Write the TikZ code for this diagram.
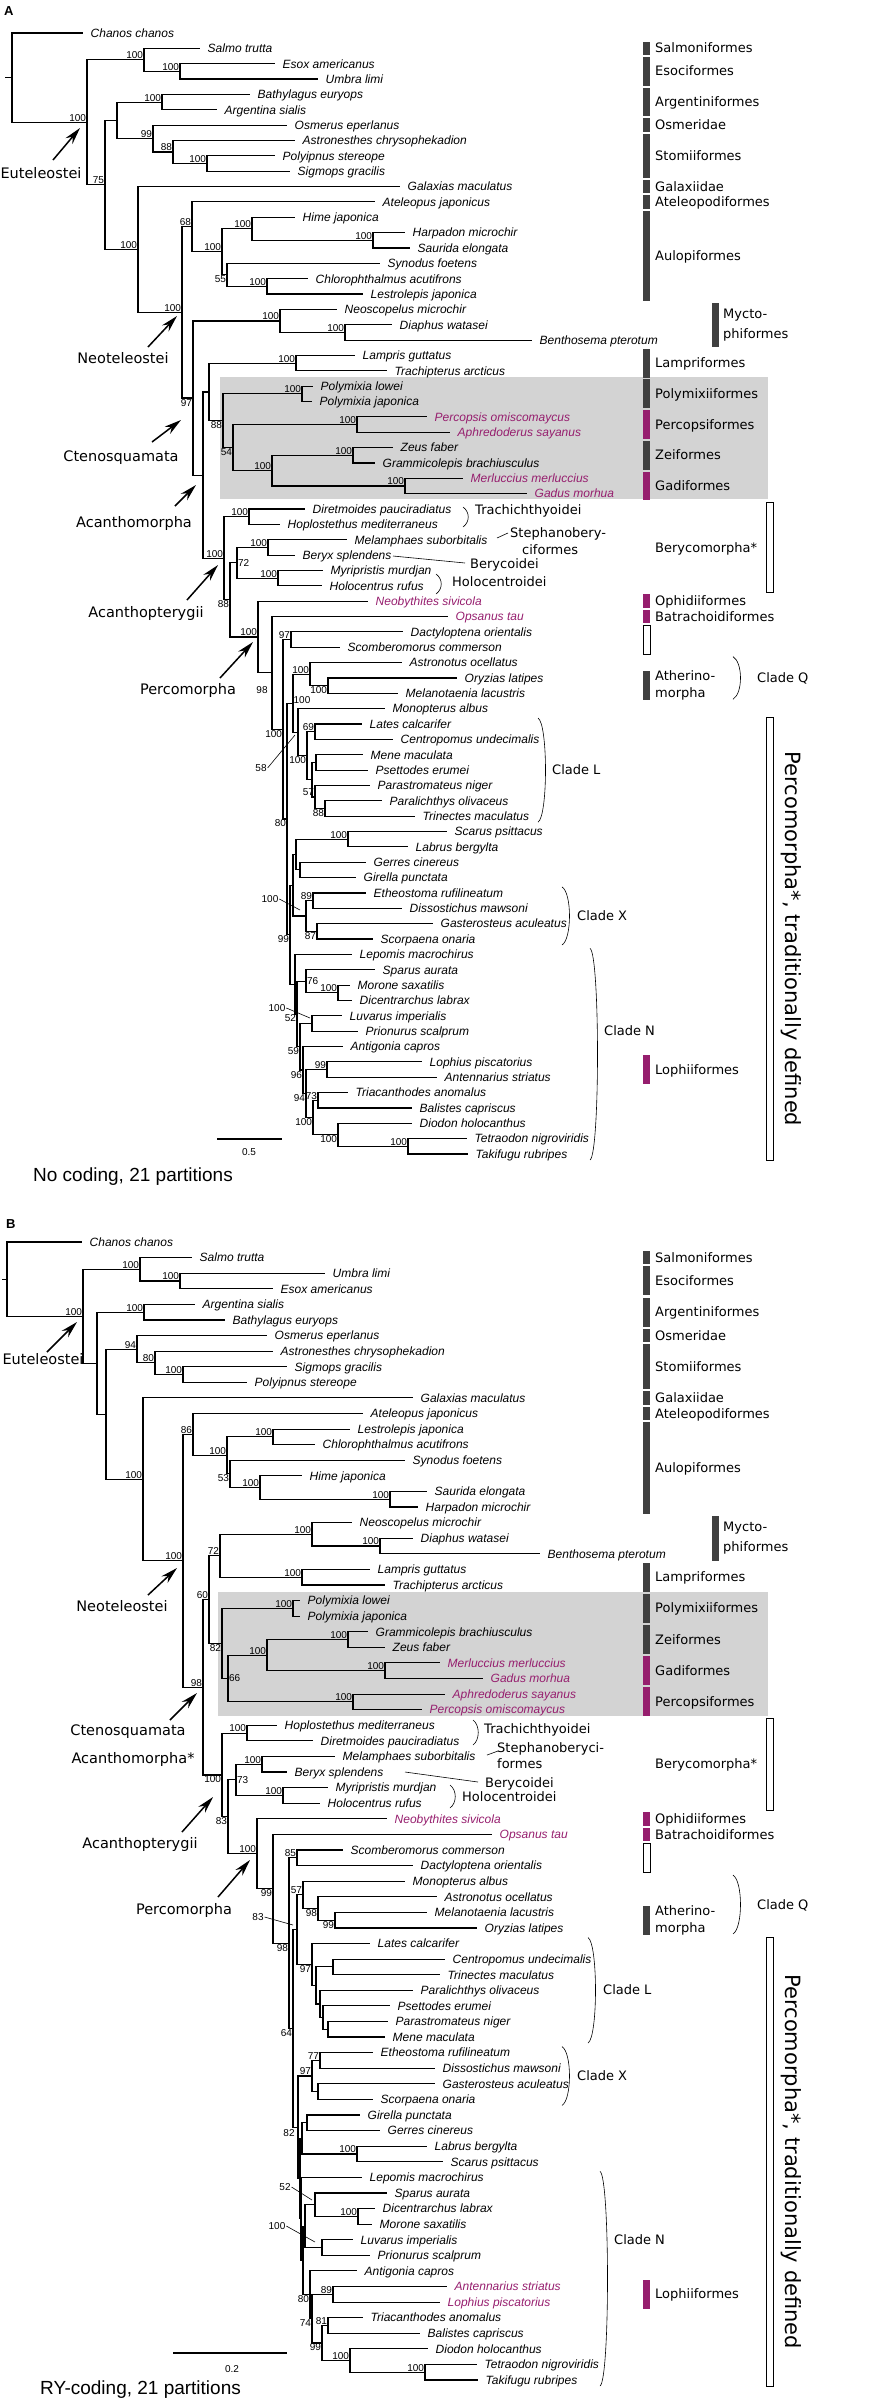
\documentclass[tikz,border=0pt]{standalone}
\usepackage{fontspec}
\setmainfont{Liberation Sans}
\setsansfont{Liberation Sans}
\newfontfamily\dvf{DejaVu Sans}
\usetikzlibrary{calc,arrows.meta}
\definecolor{purp}{RGB}{150,30,110}
\definecolor{dkbar}{RGB}{64,64,64}
\definecolor{boxg}{RGB}{211,211,211}
\newcommand\Yb{33}
\newcommand\Ys{15.356}
\newcommand\yv[1]{(\Yb+(#1-1)*\Ys)}
\newcommand\tleaf[5][]{\coordinate (#2) at (#3,{\yv{#4}});\node[leaf,#1] (#2t) at (#2) {#5};}
\newcommand\tnode[4]{\path let \p1=(#3),\p2=(#4) in ({#2pt},{0.5*(\y1)+0.5*(\y2)}) coordinate (#1);\draw[br] (#1) |- (#3);\draw[br] (#1) |- (#4);}
\newcommand\tsup[3][south east]{\node[bsl,anchor=#1] (#2b) at (#2) {#3};}
\newcommand\tsupa[4]{\node[bsl] (#1) at (#2,#3) {#4};}
\newcommand\tlead[6]{\node[bsl] (#1) at (#2,#3) {#4};\coordinate (#1e) at (#5,#6);\draw[lead] (#1.east) -- (#1e);}
\newcounter{oc}
\newcommand\tord[4][dk]{\stepcounter{oc}\path[#1] (643,{\yv{#2}-6.7}) rectangle (650,{\yv{#3}+6.7});\node[ordl] (ord\theoc) at (655,{(\yv{#2}+\yv{#3})/2}) {#4};}
\newcommand\tobar[3]{\path[wb] (#1,{\yv{#2}-6.7}) rectangle ({#1+7},{\yv{#3}+6.7});}
\newcommand\cbr[3]{\draw[lead] (#1,{\yv{#2}-6}) .. controls ({#1+10},{\yv{#2}}) and ({#1+10},{\yv{#3}}) .. (#1,{\yv{#3}+6});}
\newcommand\sbr[3]{\draw[lead] (#1,#2) .. controls ({#1+7},{#2+5}) and ({#1+7},{#3-5}) .. (#1,#3);}
\begin{document}
\begin{tikzpicture}[x=1pt,y=-1pt,
  br/.style={line width=1.15pt},
  leaf/.style={anchor=base west,inner sep=0pt,xshift=7.5pt,yshift=-4.3pt,font=\fontsize{12}{14}\selectfont\itshape},
  bsl/.style={inner sep=0.8pt,font=\fontsize{10}{12}\selectfont},
  ordl/.style={anchor=base west,inner sep=0pt,yshift=-4.6pt,font=\dvf\fontsize{13}{15}\selectfont},
  ordm/.style={anchor=west,inner sep=0pt,align=left,font=\dvf\fontsize{13}{17}\selectfont},
  arrl/.style={inner sep=0pt,font=\dvf\fontsize{14.5}{17}\selectfont},
  arr/.style={line width=1.5pt,-{Stealth[length=17pt,width=9pt]}},
  lead/.style={line width=0.6pt},
  dk/.style={fill=dkbar},
  mg/.style={fill=purp},
  wb/.style={draw=black,line width=0.6pt,fill=white},
  pur/.style={text=purp}]
\useasboundingbox (0,0) rectangle (887,2404);
\fill[boxg] (220,377) rectangle (768,499);
\fill[boxg] (218,1592) rectangle (768,1716);
% ================= PANEL A =================
\node[anchor=west,inner sep=0pt,font=\bfseries\fontsize{13}{15}\selectfont] (pA) at (4,11) {A};
\tleaf{a1}{83}{1}{Chanos chanos}
\tleaf{a2}{200}{2}{Salmo trutta}
\tleaf{a3}{275}{3}{Esox americanus}
\tleaf{a4}{318}{4}{Umbra limi}
\tleaf{a5}{250}{5}{Bathylagus euryops}
\tleaf{a6}{217}{6}{Argentina sialis}
\tleaf{a7}{287}{7}{Osmerus eperlanus}
\tleaf{a8}{295}{8}{Astronesthes chrysophekadion}
\tleaf{a9}{275}{9}{Polyipnus stereope}
\tleaf{a10}{290}{10}{Sigmops gracilis}
\tleaf{a11}{400}{11}{Galaxias maculatus}
\tleaf{a12}{375}{12}{Ateleopus japonicus}
\tleaf{a13}{295}{13}{Hime japonica}
\tleaf{a14}{405}{14}{Harpadon microchir}
\tleaf{a15}{410}{15}{Saurida elongata}
\tleaf{a16}{380}{16}{Synodus foetens}
\tleaf{a17}{308}{17}{Chlorophthalmus acutifrons}
\tleaf{a18}{363}{18}{Lestrolepis japonica}
\tleaf{a19}{337}{19}{Neoscopelus microchir}
\tleaf{a20}{392}{20}{Diaphus watasei}
\tleaf{a21}{532}{21}{Benthosema pterotum}
\tleaf{a22}{355}{22}{Lampris guttatus}
\tleaf{a23}{387}{23}{Trachipterus arcticus}
\tleaf{a24}{313}{24}{Polymixia lowei}
\tleaf{a25}{312}{25}{Polymixia japonica}
\tleaf[pur]{a26}{427}{26}{Percopsis omiscomaycus}
\tleaf[pur]{a27}{450}{27}{Aphredoderus sayanus}
\tleaf{a28}{393}{28}{Zeus faber}
\tleaf{a29}{375}{29}{Grammicolepis brachiusculus}
\tleaf[pur]{a30}{463}{30}{Merluccius merluccius}
\tleaf[pur]{a31}{527}{31}{Gadus morhua}
\tleaf{a32}{305}{32}{Diretmoides pauciradiatus}
\tleaf{a33}{280}{33}{Hoplostethus mediterraneus}
\tleaf{a34}{347}{34}{Melamphaes suborbitalis}
\tleaf{a35}{295}{35}{Beryx splendens}
\tleaf{a36}{323}{36}{Myripristis murdjan}
\tleaf{a37}{322}{37}{Holocentrus rufus}
\tleaf[pur]{a38}{368}{38}{Neobythites sivicola}
\tleaf[pur]{a39}{448}{39}{Opsanus tau}
\tleaf{a40}{403}{40}{Dactyloptena orientalis}
\tleaf{a41}{340}{41}{Scomberomorus commerson}
\tleaf{a42}{402}{42}{Astronotus ocellatus}
\tleaf{a43}{457}{43}{Oryzias latipes}
\tleaf{a44}{398}{44}{Melanotaenia lacustris}
\tleaf{a45}{385}{45}{Monopterus albus}
\tleaf{a46}{362}{46}{Lates calcarifer}
\tleaf{a47}{393}{47}{Centropomus undecimalis}
\tleaf{a48}{363}{48}{Mene maculata}
\tleaf{a49}{368}{49}{Psettodes erumei}
\tleaf{a50}{370}{50}{Parastromateus niger}
\tleaf{a51}{382}{51}{Paralichthys olivaceus}
\tleaf{a52}{415}{52}{Trinectes maculatus}
\tleaf{a53}{447}{53}{Scarus psittacus}
\tleaf{a54}{408}{54}{Labrus bergylta}
\tleaf{a55}{366}{55}{Gerres cinereus}
\tleaf{a56}{356}{56}{Girella punctata}
\tleaf{a57}{366}{57}{Etheostoma rufilineatum}
\tleaf{a58}{402}{58}{Dissostichus mawsoni}
\tleaf{a59}{433}{59}{Gasterosteus aculeatus}
\tleaf{a60}{373}{60}{Scorpaena onaria}
\tleaf{a61}{352}{61}{Lepomis macrochirus}
\tleaf{a62}{375}{62}{Sparus aurata}
\tleaf{a63}{350}{63}{Morone saxatilis}
\tleaf{a64}{352}{64}{Dicentrarchus labrax}
\tleaf{a65}{342}{65}{Luvarus imperialis}
\tleaf{a66}{358}{66}{Prionurus scalprum}
\tleaf{a67}{343}{67}{Antigonia capros}
\tleaf{a68}{422}{68}{Lophius piscatorius}
\tleaf{a69}{437}{69}{Antennarius striatus}
\tleaf{a70}{348}{70}{Triacanthodes anomalus}
\tleaf{a71}{412}{71}{Balistes capriscus}
\tleaf{a72}{412}{72}{Diodon holocanthus}
\tleaf{a73}{467}{73}{Tetraodon nigroviridis}
\tleaf{a74}{468}{74}{Takifugu rubripes}
% internal nodes A
\tnode{a-salumb}{180}{a3}{a4}\tsup{a-salumb}{100}
\tnode{a-salmo}{144}{a2}{a-salumb}\tsup{a-salmo}{100}
\tnode{a-batarg}{162}{a5}{a6}\tsup{a-batarg}{100}
\tnode{a-polsig}{207}{a9}{a10}\tsup{a-polsig}{100}
\tnode{a-ast}{173}{a8}{a-polsig}\tsup{a-ast}{88}
\tnode{a-osm}{153}{a7}{a-ast}\tsup{a-osm}{99}
\tnode{a-arg}{117}{a-batarg}{a-osm}
\tnode{a-harsau}{373}{a14}{a15}\tsup{a-harsau}{100}
\tnode{a-hime}{252}{a13}{a-harsau}\tsup{a-hime}{100}
\tnode{a-chlles}{267}{a17}{a18}\tsup{a-chlles}{100}
\tnode{a-syn}{227}{a16}{a-chlles}\tsup[north east]{a-syn}{55}
\tnode{a-aulo}{222}{a-hime}{a-syn}\tsup{a-aulo}{100}
\tnode{a-68}{192}{a12}{a-aulo}\tsup{a-68}{68}
\tnode{a-diaben}{345}{a20}{a21}\tsup{a-diaben}{100}
\tnode{a-myct}{280}{a19}{a-diaben}\tsup{a-myct}{100}
\tnode{a-lamp}{296}{a22}{a23}\tsup{a-lamp}{100}
\tnode{a-poly}{302}{a24}{a25}\tsup{a-poly}{100}
\tnode{a-perc}{357}{a26}{a27}\tsup{a-perc}{100}
\tnode{a-zeus}{353}{a28}{a29}\tsup{a-zeus}{100}
\tnode{a-gadi}{405}{a30}{a31}\tsup{a-gadi}{100}
\tnode{a-zg}{272}{a-zeus}{a-gadi}\tsup{a-zg}{100}
\tnode{a-54}{233}{a-perc}{a-zg}\tsup[north east]{a-54}{54}
\tnode{a-88}{223}{a-poly}{a-54}\tsup[north east]{a-88}{88}
\tnode{a-para}{209}{a-lamp}{a-88}
\tnode{a-trach}{249}{a32}{a33}\tsup{a-trach}{100}
\tnode{a-melber}{268}{a34}{a35}\tsup{a-melber}{100}
\tnode{a-holo}{278}{a36}{a37}\tsup{a-holo}{100}
\tnode{a-72}{237}{a-melber}{a-holo}\tsup[west]{a-72}{72}
\tnode{a-dactsc}{291}{a40}{a41}\tsup{a-dactsc}{97}
\tnode{a-orymel}{328}{a43}{a44}\tsup[north east]{a-orymel}{100}
\tnode{a-Q}{310}{a42}{a-orymel}\tsup{a-Q}{100}
\tnode{a-latcen}{315}{a46}{a47}\tsup{a-latcen}{69}
\tnode{a-menpse}{316}{a48}{a49}
\tnode{a-paratrin}{325}{a51}{a52}\tsup[north east]{a-paratrin}{88}
\tnode{a-57}{315}{a50}{a-paratrin}\tsup{a-57}{57}
\tnode{a-x312}{312}{a-menpse}{a-57}
\tnode{a-L}{307}{a-latcen}{a-x312}\tsup[north east]{a-L}{100}
\tnode{a-58}{298}{a45}{a-L}
\tlead{a-58b}{261}{768}{58}{295}{735}
\tnode{a-A1}{293}{a-Q}{a-58}\tsupa{a-A1b}{302}{700}{100}
\tnode{a-scalab}{348}{a53}{a54}\tsup{a-scalab}{100}
\tnode{a-gergir}{300}{a55}{a56}
\tnode{a-sg}{296}{a-scalab}{a-gergir}
\tnode{a-ethdis}{313}{a57}{a58}\tsup{a-ethdis}{89}
\tnode{a-gassco}{317}{a59}{a60}\tsup[north east]{a-gassco}{87}
\tnode{a-X}{306}{a-ethdis}{a-gassco}
\tlead{a-Xb}{270}{899}{100}{300}{910}
\tnode{a-sgx}{293}{a-sg}{a-X}
\tnode{a-mordic}{338}{a63}{a64}\tsup{a-mordic}{100}
\tnode{a-76}{306}{a62}{a-mordic}\tsup[west]{a-76}{76}
\tnode{a-luv}{312}{a65}{a66}
\tlead{a-luvb}{277}{1008}{100}{310}{1018}
\tnode{a-lophii}{327}{a68}{a69}\tsup{a-lophii}{99}
\tnode{a-triac}{318}{a70}{a71}\tsup{a-triac}{73}
\tnode{a-tettak}{408}{a73}{a74}\tsup{a-tettak}{100}
\tnode{a-tetra}{338}{a72}{a-tettak}\tsup[north east]{a-tetra}{100}
\tnode{a-tx}{313}{a-triac}{a-tetra}\tsup[north east]{a-tx}{100}
\tnode{a-94}{306}{a-lophii}{a-tx}\tsup[north east]{a-94}{94}
\tnode{a-96}{303}{a67}{a-94}\tsup[north east]{a-96}{96}
\tnode{a-59}{300}{a-luv}{a-96}\tsup[north east]{a-59}{59}
\tnode{a-52}{297}{a-76}{a-59}\tsup[north east]{a-52}{52}
\tnode{a-N}{295}{a61}{a-52}
\tnode{a-99}{290}{a-sgx}{a-N}\tsup[north east]{a-99}{99}
\tnode{a-80}{287}{a-A1}{a-99}\tsup[north east]{a-80}{80}
\tnode{a-R}{283}{a-dactsc}{a-80}\tsup[north east]{a-R}{100}
\tnode{a-98}{272}{a39}{a-R}\tsupa{a-98b}{262}{690}{98}
\tnode{a-pcm}{258}{a38}{a-98}\tsup{a-pcm}{100}
\tnode{a-88b}{230}{a-72}{a-pcm}\tsup[north east]{a-88b}{88}
\tnode{a-acpt}{224}{a-trach}{a-88b}\tsup{a-acpt}{100}
\tnode{a-acm}{203}{a-para}{a-acpt}
\tnode{a-cten}{193}{a-myct}{a-acm}\tsup[north east]{a-cten}{97}
\tnode{a-neo}{182}{a-68}{a-cten}\tsup{a-neo}{100}
\tnode{a-galneo}{138}{a11}{a-neo}\tsup{a-galneo}{100}
\tnode{a-75}{105}{a-arg}{a-galneo}\tsup{a-75}{75}
\tnode{a-eut}{87}{a-salmo}{a-75}\tsup{a-eut}{100}
\tnode{a-root}{12}{a1}{a-eut}
\draw[br] (a-root) -- ++(-7,0);
% arrows A
\node[arrl] (la1) at (41,173) {Euteleostei};
\coordinate (aa1s) at (53,160); \coordinate (aa1e) at (80,128); \draw[arr] (aa1s) -- (aa1e);
\node[arrl] (la2) at (123,358) {Neoteleostei};
\coordinate (aa2s) at (148,347); \coordinate (aa2e) at (177,316); \draw[arr] (aa2s) -- (aa2e);
\node[arrl] (la3) at (121,458) {Ctenosquamata};
\coordinate (aa3s) at (152,442); \coordinate (aa3e) at (181,420); \draw[arr] (aa3s) -- (aa3e);
\node[arrl] (la4) at (134,523) {Acanthomorpha};
\coordinate (aa4s) at (175,506); \coordinate (aa4e) at (196,485); \draw[arr] (aa4s) -- (aa4e);
\node[arrl] (la5) at (146,613) {Acanthopterygii};
\coordinate (aa5s) at (187,600); \coordinate (aa5e) at (218,565); \draw[arr] (aa5s) -- (aa5e);
\node[arrl] (la6) at (188,690) {Percomorpha};
\coordinate (aa6s) at (220,678); \coordinate (aa6e) at (253,642); \draw[arr] (aa6s) -- (aa6e);
% right side A
\tord{2}{2}{Salmoniformes}
\tord{3}{4}{Esociformes}
\tord{5}{6}{Argentiniformes}
\tord{7}{7}{Osmeridae}
\tord{8}{10}{Stomiiformes}
\tord{11}{11}{Galaxiidae}
\tord{12}{12}{Ateleopodiformes}
\tord{13}{18}{Aulopiformes}
\fill[dkbar] (712,{\yv{19}-6.7}) rectangle (719,{\yv{21}+6.7});
\node[ordm,font=\dvf\fontsize{13}{20}\selectfont] (myA) at (723,{\yv{20}}) {Mycto-\\phiformes};
\tord{22}{23}{Lampriformes}
\tord{24}{25}{Polymixiiformes}
\tord[mg]{26}{27}{Percopsiformes}
\tord{28}{29}{Zeiformes}
\tord[mg]{30}{31}{Gadiformes}
\tobar{766}{32}{37}
\node[ordl] (berA) at (655,{(\yv{32}+\yv{37})/2}) {Berycomorpha*};
\sbr{463}{507}{527}
\node[ordl] (trA) at (475,{\yv{32}+1}) {Trachichthyoidei};
\node[ordm,font=\dvf\fontsize{13}{17}\selectfont] (stA) at (510,541) {Stephanobery-\\\hspace*{12pt}ciformes};
\coordinate (stA1) at (497,538); \coordinate (stA2) at (508,533); \draw[lead] (stA1) -- (stA2);
\node[ordl] (bcA) at (470,564) {Berycoidei};
\coordinate (bcA1) at (393,556); \coordinate (bcA2) at (465,563); \draw[lead] (bcA1) -- (bcA2);
\sbr{436}{574}{594}
\node[ordl] (hoA) at (452,582) {Holocentroidei};
\tord[mg]{38}{38}{Ophidiiformes}
\tord[mg]{39}{39}{Batrachoidiformes}
\path[wb] (643,{\yv{40}-6.7}) rectangle (650,{\yv{41}+6.7});
\fill[dkbar] (643,{\yv{43}-6.7}) rectangle (650,{\yv{44}+6.7});
\node[ordm] (atA) at (655,{(\yv{43}+\yv{44})/2}) {Atherino-\\morpha};
\cbr{733}{42}{44}
\node[ordl] (cqA) at (757,{\yv{43}}) {Clade Q};
\cbr{538}{46}{52}
\node[ordl] (clA) at (552,{\yv{49}}) {Clade L};
\cbr{562}{57}{60}
\node[ordl] (cxA) at (577,{(\yv{57}+\yv{60})/2}) {Clade X};
\cbr{590}{61}{74}
\node[ordl] (cnA) at (604,{\yv{66}}) {Clade N};
\tord[mg]{68}{69}{Lophiiformes}
\tobar{766}{46}{74}
\node[rotate=-90,inner sep=0pt,font=\dvf\fontsize{21}{24}\selectfont] (pcA) at (791,{(\yv{46}+\yv{74})/2}) {Percomorpha*, traditionally defined};
\coordinate (sA1) at (217,1139); \coordinate (sA2) at (282,1139); \draw[br] (sA1) -- (sA2);
\node[bsl] (sAl) at (249,1152) {0.5};
\node[anchor=west,inner sep=0pt,font=\fontsize{19}{22}\selectfont] (tA) at (33,1177) {No coding, 21 partitions};
% ================= PANEL B =================
\renewcommand\Yb{1242}\renewcommand\Ys{15.589}
\node[anchor=west,inner sep=0pt,font=\bfseries\fontsize{13}{15}\selectfont] (pB) at (6,1224) {B};
\tleaf{b1}{82}{1}{Chanos chanos}
\tleaf{b2}{192}{2}{Salmo trutta}
\tleaf{b3}{325}{3}{Umbra limi}
\tleaf{b4}{273}{4}{Esox americanus}
\tleaf{b5}{195}{5}{Argentina sialis}
\tleaf{b6}{225}{6}{Bathylagus euryops}
\tleaf{b7}{267}{7}{Osmerus eperlanus}
\tleaf{b8}{273}{8}{Astronesthes chrysophekadion}
\tleaf{b9}{287}{9}{Sigmops gracilis}
\tleaf{b10}{247}{10}{Polyipnus stereope}
\tleaf{b11}{413}{11}{Galaxias maculatus}
\tleaf{b12}{363}{12}{Ateleopus japonicus}
\tleaf{b13}{350}{13}{Lestrolepis japonica}
\tleaf{b14}{315}{14}{Chlorophthalmus acutifrons}
\tleaf{b15}{405}{15}{Synodus foetens}
\tleaf{b16}{302}{16}{Hime japonica}
\tleaf{b17}{427}{17}{Saurida elongata}
\tleaf{b18}{418}{18}{Harpadon microchir}
\tleaf{b19}{352}{19}{Neoscopelus microchir}
\tleaf{b20}{413}{20}{Diaphus watasei}
\tleaf{b21}{540}{21}{Benthosema pterotum}
\tleaf{b22}{370}{22}{Lampris guttatus}
\tleaf{b23}{385}{23}{Trachipterus arcticus}
\tleaf{b24}{300}{24}{Polymixia lowei}
\tleaf{b25}{300}{25}{Polymixia japonica}
\tleaf{b26}{368}{26}{Grammicolepis brachiusculus}
\tleaf{b27}{385}{27}{Zeus faber}
\tleaf[pur]{b28}{440}{28}{Merluccius merluccius}
\tleaf[pur]{b29}{483}{29}{Gadus morhua}
\tleaf[pur]{b30}{445}{30}{Aphredoderus sayanus}
\tleaf[pur]{b31}{422}{31}{Percopsis omiscomaycus}
\tleaf{b32}{277}{32}{Hoplostethus mediterraneus}
\tleaf{b33}{313}{33}{Diretmoides pauciradiatus}
\tleaf{b34}{335}{34}{Melamphaes suborbitalis}
\tleaf{b35}{287}{35}{Beryx splendens}
\tleaf{b36}{328}{36}{Myripristis murdjan}
\tleaf{b37}{320}{37}{Holocentrus rufus}
\tleaf[pur]{b38}{387}{38}{Neobythites sivicola}
\tleaf[pur]{b39}{492}{39}{Opsanus tau}
\tleaf{b40}{343}{40}{Scomberomorus commerson}
\tleaf{b41}{413}{41}{Dactyloptena orientalis}
\tleaf{b42}{405}{42}{Monopterus albus}
\tleaf{b43}{437}{43}{Astronotus ocellatus}
\tleaf{b44}{427}{44}{Melanotaenia lacustris}
\tleaf{b45}{477}{45}{Oryzias latipes}
\tleaf{b46}{370}{46}{Lates calcarifer}
\tleaf{b47}{445}{47}{Centropomus undecimalis}
\tleaf{b48}{440}{48}{Trinectes maculatus}
\tleaf{b49}{413}{49}{Paralichthys olivaceus}
\tleaf{b50}{390}{50}{Psettodes erumei}
\tleaf{b51}{388}{51}{Parastromateus niger}
\tleaf{b52}{385}{52}{Mene maculata}
\tleaf{b53}{373}{53}{Etheostoma rufilineatum}
\tleaf{b54}{435}{54}{Dissostichus mawsoni}
\tleaf{b55}{435}{55}{Gasterosteus aculeatus}
\tleaf{b56}{373}{56}{Scorpaena onaria}
\tleaf{b57}{360}{57}{Girella punctata}
\tleaf{b58}{380}{58}{Gerres cinereus}
\tleaf{b59}{427}{59}{Labrus bergylta}
\tleaf{b60}{443}{60}{Scarus psittacus}
\tleaf{b61}{362}{61}{Lepomis macrochirus}
\tleaf{b62}{387}{62}{Sparus aurata}
\tleaf{b63}{375}{63}{Dicentrarchus labrax}
\tleaf{b64}{372}{64}{Morone saxatilis}
\tleaf{b65}{353}{65}{Luvarus imperialis}
\tleaf{b66}{370}{66}{Prionurus scalprum}
\tleaf{b67}{357}{67}{Antigonia capros}
\tleaf[pur]{b68}{447}{68}{Antennarius striatus}
\tleaf[pur]{b69}{440}{69}{Lophius piscatorius}
\tleaf{b70}{363}{70}{Triacanthodes anomalus}
\tleaf{b71}{420}{71}{Balistes capriscus}
\tleaf{b72}{428}{72}{Diodon holocanthus}
\tleaf{b73}{477}{73}{Tetraodon nigroviridis}
\tleaf{b74}{478}{74}{Takifugu rubripes}
% internal nodes B
\tnode{b-umbesox}{180}{b3}{b4}\tsup{b-umbesox}{100}
\tnode{b-salmo}{140}{b2}{b-umbesox}\tsup{b-salmo}{100}
\tnode{b-argbat}{144}{b5}{b6}\tsup{b-argbat}{100}
\tnode{b-sigpol}{183}{b9}{b10}\tsup{b-sigpol}{100}
\tnode{b-80}{155}{b8}{b-sigpol}\tsup{b-80}{80}
\tnode{b-94}{137}{b7}{b-80}\tsup{b-94}{94}
\tnode{b-sauhar}{390}{b17}{b18}\tsup{b-sauhar}{100}
\tnode{b-hime}{260}{b16}{b-sauhar}\tsup{b-hime}{100}
\tnode{b-53}{230}{b15}{b-hime}\tsup[north east]{b-53}{53}
\tnode{b-lesch}{273}{b13}{b14}\tsup{b-lesch}{100}
\tnode{b-aulo}{227}{b-lesch}{b-53}\tsup{b-aulo}{100}
\tnode{b-86}{193}{b12}{b-aulo}\tsup{b-86}{86}
\tnode{b-diaben}{380}{b20}{b21}\tsup{b-diaben}{100}
\tnode{b-myct}{312}{b19}{b-diaben}\tsup{b-myct}{100}
\tnode{b-lamp}{302}{b22}{b23}\tsup{b-lamp}{100}
\tnode{b-72}{220}{b-myct}{b-lamp}\tsup{b-72}{72}
\tnode{b-poly}{293}{b24}{b25}\tsup{b-poly}{100}
\tnode{b-zeus}{348}{b26}{b27}\tsup{b-zeus}{100}
\tnode{b-gadi}{385}{b28}{b29}\tsup{b-gadi}{100}
\tnode{b-zg}{267}{b-zeus}{b-gadi}\tsup{b-zg}{100}
\tnode{b-perc}{353}{b30}{b31}\tsup{b-perc}{100}
\tnode{b-66}{228}{b-zg}{b-perc}\tsup[west]{b-66}{66}
\tnode{b-82}{222}{b-poly}{b-66}\tsup[north east]{b-82}{82}
\tnode{b-60}{209}{b-72}{b-82}\tsup{b-60}{60}
\tnode{b-trach}{247}{b32}{b33}\tsup{b-trach}{100}
\tnode{b-melber}{262}{b34}{b35}\tsup{b-melber}{100}
\tnode{b-holo}{283}{b36}{b37}\tsup{b-holo}{100}
\tnode{b-73}{236}{b-melber}{b-holo}\tsup[west]{b-73}{73}
\tnode{b-85}{297}{b40}{b41}\tsup{b-85}{85}
\tnode{b-melory}{335}{b44}{b45}\tsup[north east]{b-melory}{99}
\tnode{b-98b}{318}{b43}{b-melory}\tsup[north east]{b-98b}{98}
\tnode{b-57}{303}{b42}{b-98b}\tsup{b-57}{57}
\tnode{b-centrin}{333}{b47}{b48}
\tnode{b-mene}{328}{b51}{b52}
\tnode{b-pse}{323}{b50}{b-mene}
\tnode{b-par}{320}{b49}{b-pse}
\tnode{b-ctp}{316}{b-centrin}{b-par}
\tnode{b-L}{312}{b46}{b-ctp}\tsup[north east]{b-L}{97}
\tnode{b-83}{297}{b-57}{b-L}
\tlead{b-83b}{258}{1917}{83}{293}{1925}
\tnode{b-ethdis}{320}{b53}{b54}\tsup{b-ethdis}{77}
\tnode{b-gassco}{318}{b55}{b56}
\tnode{b-X}{312}{b-ethdis}{b-gassco}\tsup{b-X}{97}
\tnode{b-gg}{307}{b57}{b58}
\tnode{b-ls}{357}{b59}{b60}\tsup{b-ls}{100}
\tnode{b-ggls}{302}{b-gg}{b-ls}\tsupa{b-gglsb}{289}{2133}{82}
\tnode{b-dicmor}{358}{b63}{b64}\tsup{b-dicmor}{100}
\tnode{b-52}{315}{b62}{b-dicmor}
\tlead{b-52b}{285}{2187}{52}{312}{2200}
\tnode{b-luv}{322}{b65}{b66}
\tlead{b-luvb}{277}{2226}{100}{315}{2242}
\tnode{b-Y}{305}{b-52}{b-luv}
\tnode{b-antlop}{333}{b68}{b69}\tsup{b-antlop}{89}
\tnode{b-tribal}{328}{b70}{b71}\tsup{b-tribal}{81}
\tnode{b-tettak}{425}{b73}{b74}\tsup{b-tettak}{100}
\tnode{b-diod}{350}{b72}{b-tettak}\tsup{b-diod}{100}
\tnode{b-tetra}{322}{b-tribal}{b-diod}\tsup[north east]{b-tetra}{99}
\tnode{b-74}{312}{b-antlop}{b-tetra}\tsup[north east]{b-74}{74}
\tnode{b-80n}{310}{b67}{b-74}\tsup[north east]{b-80n}{80}
\tnode{b-U}{303}{b-Y}{b-80n}
\tnode{b-V}{301}{b61}{b-U}
\tnode{b-W}{300}{b-ggls}{b-V}
\tnode{b-Z}{298}{b-X}{b-W}
\tnode{b-64}{293}{b-83}{b-Z}\tsup[north east]{b-64}{64}
\tnode{b-98}{289}{b-85}{b-64}\tsup[north east]{b-98}{98}
\tnode{b-99}{273}{b39}{b-98}\tsup[north east]{b-99}{99}
\tnode{b-pcm}{257}{b38}{b-99}\tsup{b-pcm}{100}
\tnode{b-83n}{228}{b-73}{b-pcm}\tsup[north east]{b-83n}{83}
\tnode{b-acm}{222}{b-trach}{b-83n}\tsup[north east]{b-acm}{100}
\tnode{b-cten}{203}{b-60}{b-acm}\tsup{b-cten}{98}
\tnode{b-neo}{183}{b-86}{b-cten}\tsup{b-neo}{100}
\tnode{b-galneo}{143}{b11}{b-neo}\tsup{b-galneo}{100}
\tnode{b-106}{106}{b-94}{b-galneo}
\tnode{b-97}{97}{b-argbat}{b-106}
\tnode{b-eut}{83}{b-salmo}{b-97}\tsup{b-eut}{100}
\tnode{b-root}{7}{b1}{b-eut}
\draw[br] (b-root) -- ++(-5,0);
% arrows B
\node[arrl] (lb1) at (43,1359) {Euteleostei};
\coordinate (ab1s) at (47,1352); \coordinate (ab1e) at (77,1322); \draw[arr] (ab1s) -- (ab1e);
\node[arrl] (lb2) at (122,1606) {Neoteleostei};
\coordinate (ab2s) at (148,1595); \coordinate (ab2e) at (177,1568); \draw[arr] (ab2s) -- (ab2e);
\node[arrl] (lb3) at (128,1732) {Ctenosquamata};
\coordinate (ab3s) at (170,1720); \coordinate (ab3e) at (197,1693); \draw[arr] (ab3s) -- (ab3e);
\node[arrl] (lb4) at (133,1759) {Acanthomorpha*};
\node[arrl] (lb5) at (140,1844) {Acanthopterygii};
\coordinate (ab5s) at (182,1832); \coordinate (ab5e) at (213,1797); \draw[arr] (ab5s) -- (ab5e);
\node[arrl] (lb6) at (184,1910) {Percomorpha};
\coordinate (ab6s) at (218,1897); \coordinate (ab6e) at (250,1860); \draw[arr] (ab6s) -- (ab6e);
% right side B
\tord{2}{2}{Salmoniformes}
\tord{3}{4}{Esociformes}
\tord{5}{6}{Argentiniformes}
\tord{7}{7}{Osmeridae}
\tord{8}{10}{Stomiiformes}
\tord{11}{11}{Galaxiidae}
\tord{12}{12}{Ateleopodiformes}
\tord{13}{18}{Aulopiformes}
\fill[dkbar] (712,{\yv{19}-6.7}) rectangle (719,{\yv{21}+6.7});
\node[ordm,font=\dvf\fontsize{13}{20}\selectfont] (myB) at (723,{\yv{20}}) {Mycto-\\phiformes};
\tord{22}{23}{Lampriformes}
\tord{24}{25}{Polymixiiformes}
\tord{26}{27}{Zeiformes}
\tord[mg]{28}{29}{Gadiformes}
\tord[mg]{30}{31}{Percopsiformes}
\tobar{766}{32}{37}
\node[ordl] (berB) at (655,{(\yv{32}+\yv{37})/2}) {Berycomorpha*};
\sbr{473}{1720}{1745}
\node[ordl] (trB) at (484,{\yv{32}+4}) {Trachichthyoidei};
\node[ordm,font=\dvf\fontsize{13}{16}\selectfont] (stB) at (497,1756) {Stephanoberyci-\\formes};
\coordinate (stB1) at (487,1755); \coordinate (stB2) at (498,1751); \draw[lead] (stB1) -- (stB2);
\node[ordl] (bcB) at (485,1783) {Berycoidei};
\coordinate (bcB1) at (405,1772); \coordinate (bcB2) at (478,1782); \draw[lead] (bcB1) -- (bcB2);
\sbr{450}{1785}{1808}
\node[ordl] (hoB) at (462,1797) {Holocentroidei};
\tord[mg]{38}{38}{Ophidiiformes}
\tord[mg]{39}{39}{Batrachoidiformes}
\path[wb] (643,{\yv{40}-6.7}) rectangle (650,{\yv{41}+6.7});
\fill[dkbar] (643,{\yv{44}-6.7}) rectangle (650,{\yv{45}+6.7});
\node[ordm] (atB) at (655,{(\yv{44}+\yv{45})/2}) {Atherino-\\morpha};
\cbr{733}{42}{45}
\node[ordl] (cqB) at (757,{(\yv{42}+\yv{45})/2}) {Clade Q};
\cbr{588}{46}{52}
\node[ordl] (clB) at (603,{\yv{49}}) {Clade L};
\cbr{562}{53}{56}
\node[ordl] (cxB) at (577,{(\yv{53}+\yv{56})/2}) {Clade X};
\cbr{600}{61}{74}
\node[ordl] (cnB) at (614,{\yv{65}}) {Clade N};
\tord[mg]{68}{69}{Lophiiformes}
\tobar{766}{46}{74}
\node[rotate=-90,inner sep=0pt,font=\dvf\fontsize{21}{24}\selectfont] (pcB) at (791,{(\yv{46}+\yv{74})/2}) {Percomorpha*, traditionally defined};
\coordinate (sB1) at (173,2353); \coordinate (sB2) at (287,2353); \draw[br] (sB1) -- (sB2);
\node[bsl] (sBl) at (232,2369) {0.2};
\node[anchor=west,inner sep=0pt,font=\fontsize{19}{22}\selectfont] (tB) at (40,2390) {RY-coding, 21 partitions};
\end{tikzpicture}
\end{document}
